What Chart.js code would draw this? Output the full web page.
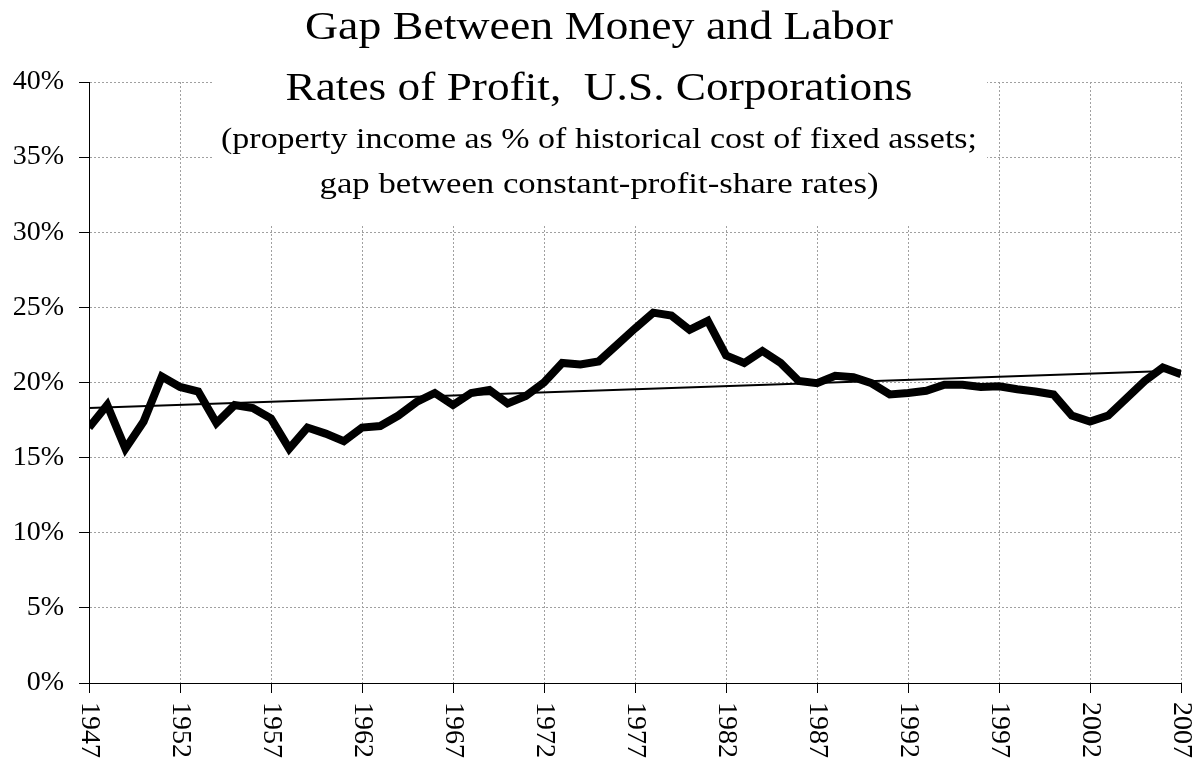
<!DOCTYPE html>
<html>
<head>
<meta charset="utf-8">
<script src="https://cdn.jsdelivr.net/npm/chart.js@4.4.1/dist/chart.umd.min.js"></script>
<style>
  html,body{margin:0;padding:0;background:#fff}
  canvas{display:block}
</style>
</head>
<body>
<canvas id="gapChart" width="1193" height="765"></canvas>
<script>
// data
const years = []
for (let y = 1947; y <= 2007; y++) years.push(y)
const gapRates = [
  17.0, 18.5, 15.6, 17.4, 20.4, 19.7, 19.4, 17.3, 18.5, 18.3,
  17.6, 15.6, 17.0, 16.6, 16.1, 17.0, 17.1, 17.8, 18.7, 19.3,
  18.5, 19.3, 19.5, 18.6, 19.1, 20.0, 21.3, 21.2, 21.4, 22.5,
  23.6, 24.65, 24.45, 23.5, 24.1, 21.8, 21.3, 22.1, 21.3, 20.1,
  19.95, 20.45, 20.35, 19.95, 19.2, 19.3, 19.45, 19.85, 19.85, 19.7,
  19.75, 19.55, 19.4, 19.2, 17.8, 17.4, 17.8, 18.95, 20.1, 21.0,
  20.55
]
const trendYears = [1947, 2007]
const trendRates = [18.3, 20.8]
const yearTicks = [1947, 1952, 1957, 1962, 1967, 1972, 1977, 1982, 1987, 1992, 1997, 2002, 2007]
const titleLines = [
  "Gap Between Money and Labor",
  "Rates of Profit,  U.S. Corporations",
  "(property income as % of historical cost of fixed assets;",
  "gap between constant-profit-share rates)"
]

const serif = "'Liberation Serif', 'DejaVu Serif', serif"
const gridGrey = "#a0a0a0"

// x labels run top to bottom, so draw them by hand
const yearLabels = {
  id: "yearLabels",
  afterDraw(chart){
    const ctx = chart.ctx
    const xs = chart.scales.x
    const bottom = chart.chartArea.bottom
    ctx.save()
    ctx.fillStyle = "#000"
    ctx.font = "28px " + serif
    ctx.textAlign = "left"
    ctx.textBaseline = "middle"
    yearTicks.forEach(yr=>{
      const x = xs.getPixelForValue(yr)
      ctx.save()
      ctx.translate(x, bottom + 19)
      ctx.rotate(Math.PI/2)
      ctx.fillText(String(yr), 0, 0)
      ctx.restore()
    })
    // axis lines
    const ca = chart.chartArea
    ctx.strokeStyle = "#000"
    ctx.lineWidth = 1
    ctx.beginPath()
    ctx.moveTo(ca.left + 0.5, ca.top)
    ctx.lineTo(ca.left + 0.5, ca.bottom + 0.5)
    ctx.lineTo(ca.right, ca.bottom + 0.5)
    ctx.stroke()
    ctx.restore()
  }
}

// title sits on a white box over the top of the plot
const titleBox = {
  id: "titleBox",
  afterDraw(chart){
    const ctx = chart.ctx
    ctx.save()
    ctx.fillStyle = "#fff"
    ctx.fillRect(213, 0, 774, 224)
    ctx.fillStyle = "#000"
    ctx.textAlign = "center"
    ctx.textBaseline = "alphabetic"
    const specs = [
      { size: 40, base: 39, width: 588 },
      { size: 40, base: 100, width: 627 },
      { size: 29, base: 148, width: 756 },
      { size: 29, base: 193, width: 559 }
    ]
    titleLines.forEach((txt,i)=>{
      const s = specs[i]
      ctx.font = s.size + "px " + serif
      const w = ctx.measureText(txt).width
      const sx = s.width / w
      ctx.save()
      ctx.translate(599, s.base)
      ctx.scale(sx, 1)
      ctx.fillText(txt, 0, 0)
      ctx.restore()
    })
    ctx.restore()
  }
}

new Chart(document.getElementById("gapChart"), {
  type: "line",
  data: {
    datasets: [
      {
        label: "Gap",
        data: years.map((y,i)=>({ x: y, y: gapRates[i] })),
        borderColor: "#000",
        borderWidth: 8,
        pointRadius: 0,
        tension: 0,
        fill: false
      },
      {
        label: "Trend",
        data: trendYears.map((y,i)=>({ x: y, y: trendRates[i] })),
        borderColor: "#000",
        borderWidth: 2,
        pointRadius: 0,
        fill: false
      }
    ]
  },
  options: {
    responsive: false,
    animation: false,
    layout: { autoPadding: false, padding: { top: 82, right: 12, left: 0, bottom: 0 } },
    plugins: { legend: { display: false }, tooltip: { enabled: false }, title: { display: false } },
    scales: {
      x: {
        type: "linear",
        min: 1947,
        max: 2007,
        afterBuildTicks: s => { s.ticks = yearTicks.map(v=>({ value: v })) },
        afterFit: s => { s.height = 82 },
        ticks: { display: false },
        grid: { color: gridGrey, lineWidth: 1, tickLength: 10, tickColor: "#000", tickBorderDash: [] },
        border: { display: true, color: "#000", dash: [2,2] }
      },
      y: {
        min: 0,
        max: 40,
        afterFit: s => { s.width = 89 },
        ticks: {
          stepSize: 5,
          color: "#000",
          padding: 15,
          font: { family: serif, size: 28 },
          callback: v => v + "%"
        },
        grid: { color: gridGrey, lineWidth: 1, tickLength: 10, tickColor: "#000", tickBorderDash: [] },
        border: { display: true, color: "#000", dash: [2,2] }
      }
    }
  },
  plugins: [yearLabels, titleBox]
})
</script>
</body>
</html>
